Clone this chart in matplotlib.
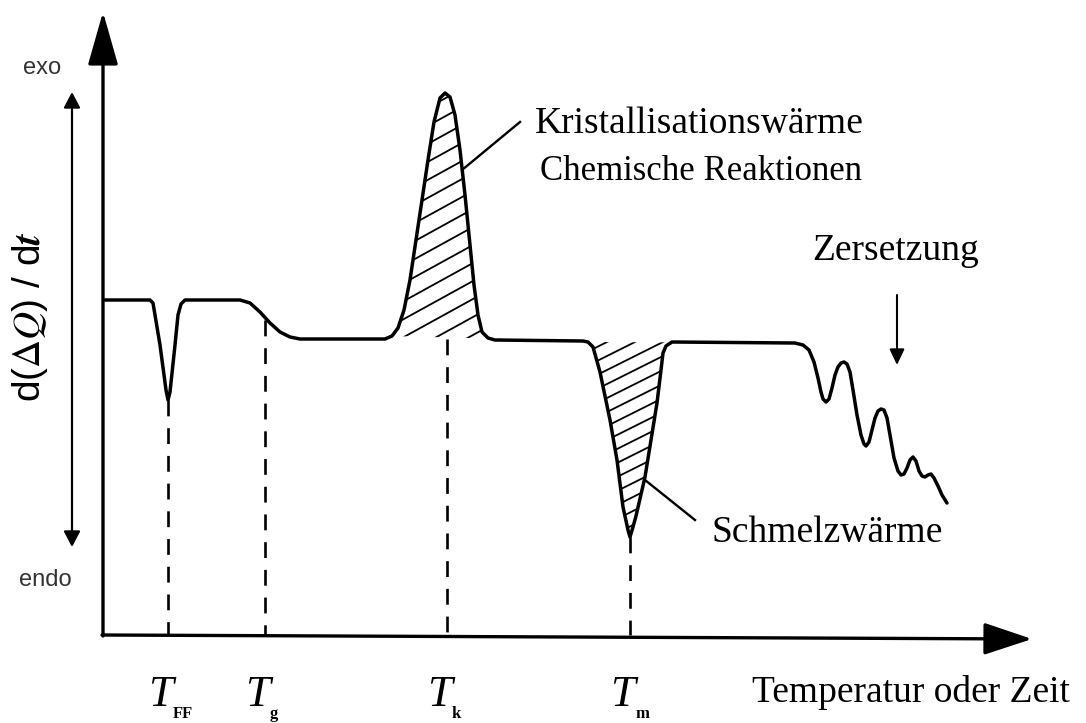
import numpy as np
import matplotlib
matplotlib.use('Agg')
import matplotlib.pyplot as plt

plt.rcParams['font.family'] = ['Liberation Serif', 'DejaVu Serif']
plt.rcParams['mathtext.fontset'] = 'stix'

# DSC-Kurve (schematisch): x = Temperatur/Zeit, y = d(dQ)/dt (Pixel ab Ursprung)
curve_x = [2, 47, 50, 57, 63, 65, 67, 72, 75, 78, 82,
           137, 147, 157, 167, 177, 187, 197,
           282, 289, 295, 301, 307, 313, 319, 325, 331, 337, 342, 347, 352, 357, 362, 367, 371, 375, 379, 385, 392,
           480, 485, 490, 497, 507, 514, 520, 525, 527, 530, 533, 542, 548, 554, 558, 560, 563, 569,
           692, 700, 706, 711, 715, 718, 720, 723, 726, 729, 732, 735, 738, 741, 744, 747, 750, 754,
           758, 761, 763, 766, 769, 772, 775, 778, 781, 784, 787, 791, 795, 798, 801, 804, 807, 810,
           813, 816, 819, 822, 825, 828, 831, 835, 839, 844]
curve_y = [335, 335, 332, 290, 245, 235, 243, 290, 320, 331, 335,
           335, 332, 323, 312, 303, 298, 296,
           296, 299, 307, 325, 355, 395, 435, 475, 513, 537, 542, 538, 520, 485, 440, 390, 350, 320, 303, 297, 295,
           294, 293, 288, 263, 215, 175, 128, 105, 98, 108, 119, 158, 195, 232, 265, 282, 289, 293,
           292, 290, 285, 273, 257, 243, 236, 233, 236, 247, 260, 268, 272, 273, 271, 263, 245, 220,
           200, 191, 189, 193, 205, 217, 224, 226, 225, 217, 200, 177, 164, 160, 161, 167, 175, 178,
           174, 164, 159, 158, 160, 161, 157, 149, 140, 132]

# Kennzeichnende Temperaturen und Kurvenwert, an dem die gestrichelte Linie beginnt
marker_x = [65, 162, 344, 527]
marker_top = [235, 315, 296, 98]
marker_main = ['T', 'T', 'T', 'T']
marker_sub = ['FF', 'g', 'k', 'm']

# Bereiche der schraffierten Peaks (Index in curve_x)
cryst_range = (19, 39)
melt_range = (40, 57)
cryst_base = 296
melt_base = 293

fig = plt.figure(figsize=(10.86, 7.23), dpi=100)
ax = fig.add_axes([0, 0, 1, 1])
ax.set_xlim(-103, 983)
ax.set_ylim(-88, 635)
ax.axis('off')

# Achsen mit Pfeilen
ax.annotate('', xy=(0, 623), xytext=(0, -1),
            arrowprops=dict(arrowstyle='-|>,head_length=1.65,head_width=0.47', mutation_scale=20,
                            lw=2.4, color='black', shrinkA=0, shrinkB=0))
ax.annotate('', xy=(929, -4), xytext=(-1, 0),
            arrowprops=dict(arrowstyle='-|>,head_length=1.5,head_width=0.5', mutation_scale=20,
                            lw=2.4, color='black', shrinkA=0, shrinkB=0))

# exo / endo Doppelpfeil
ax.annotate('', xy=(-31, 543), xytext=(-31, 88),
            arrowprops=dict(arrowstyle='<|-|>,head_length=0.95,head_width=0.5', mutation_scale=10,
                            lw=1.6, color='black', shrinkA=0, shrinkB=0))
ax.text(-61, 567, 'exo', family='Liberation Sans', fontsize=17, color='#333333', ha='center', va='center')
ax.text(-58, 55, 'endo', family='Liberation Sans', fontsize=17, color='#333333', ha='center', va='center')
ax.text(-73, 318, r'd($\Delta\mathit{Q}$) / d$\mathbfit{t}$', family='Liberation Sans', fontsize=28,
        rotation=90, ha='center', va='center')

# Kurve
ax.plot(curve_x, curve_y, color='black', lw=2.5, solid_joinstyle='round', solid_capstyle='round')

# Schraffur der Peaks
def hatch_peak(i0, i1, base, slope, step):
    px = curve_x[i0:i1 + 1]
    py = curve_y[i0:i1 + 1]
    patch = ax.fill(px, py, facecolor='none', edgecolor='none')[0]
    lo, hi = min(py), max(py)
    xs = np.array([px[0] - 10, px[-1] + 10])
    for c in np.arange(min(lo, base) - slope * xs[1], max(hi, base) - slope * xs[0] + step, step):
        ln, = ax.plot(xs, slope * xs + c, color='black', lw=1.3)
        ln.set_clip_path(patch)

hatch_peak(*cryst_range, cryst_base, 0.55, 18)
hatch_peak(*melt_range, melt_base, 0.5, 14)

# gestrichelte Linien und Beschriftung der Temperaturen
for x, top, main, sub in zip(marker_x, marker_top, marker_main, marker_sub):
    ax.plot([x, x], [top, 0], color='black', lw=1.9, linestyle=(0, (6, 4.5)))
    ax.text(x - 8, -71, main, fontsize=32, fontstyle='italic', ha='center', va='baseline')
    ax.text(x + 5, -83, sub, fontsize=12, fontweight='bold', ha='left', va='baseline')

# Beschriftungen
ax.plot([359, 417], [465, 513], color='black', lw=1.7)
ax.text(432, 502, 'Kristallisationswärme', fontsize=27, ha='left', va='baseline')
ax.text(437, 455, 'Chemische Reaktionen', fontsize=25, ha='left', va='baseline')

ax.plot([542, 592], [155, 115], color='black', lw=1.7)
ax.text(609, 93, 'Schmelzwärme', fontsize=27, ha='left', va='baseline')

ax.text(793, 375, 'Zersetzung', fontsize=27, ha='center', va='baseline')
ax.annotate('', xy=(794, 270), xytext=(794, 340),
            arrowprops=dict(arrowstyle='-|>,head_length=0.95,head_width=0.45', mutation_scale=10,
                            lw=1.5, color='black', shrinkA=0, shrinkB=0))

ax.text(649, -67, 'Temperatur oder Zeit', fontsize=27, ha='left', va='baseline')

plt.savefig('out.png', dpi=100)
